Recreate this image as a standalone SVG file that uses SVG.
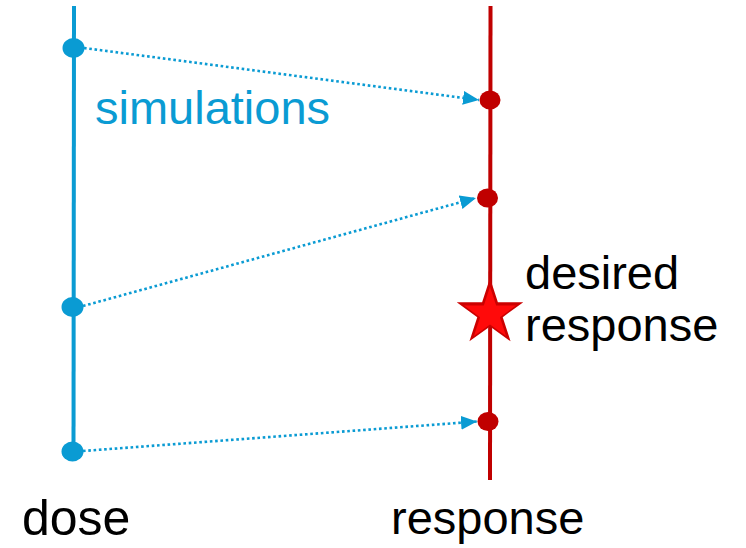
<svg xmlns="http://www.w3.org/2000/svg" xmlns:xlink="http://www.w3.org/1999/xlink" width="746" height="548" viewBox="0 0 746 548">
<style>
.blue{stroke:#0a9bd3;stroke-width:4;fill:none}
.red{stroke:#c00000;stroke-width:4;fill:none}
.bdot{fill:#0a9bd3}
.rdot{fill:#c00000}
.link{stroke:#0a9bd3;stroke-width:2.6;stroke-dasharray:2.6 2.7;fill:none}
text{font-family:"Liberation Sans",Arial,sans-serif;font-size:47px}
</style>
<defs>
<marker id="arr" markerUnits="userSpaceOnUse" markerWidth="18" markerHeight="16" refX="16" refY="7" orient="auto" viewBox="0 0 18 16">
<polygon points="0,0 16,7 0,14" fill="#0a9bd3"/>
</marker>
<path id="star" d="M0,-35 L7.88,-10.84 L33.29,-10.82 L12.74,4.14 L20.57,28.32 L0,13.4 L-20.57,28.32 L-12.74,4.14 L-33.29,-10.82 L-7.88,-10.84 Z"/>
</defs>
<g id="dose-axis">
<line class="blue" x1="74" y1="6" x2="73.5" y2="461"/>
<ellipse class="bdot" cx="73.5" cy="48" rx="11" ry="10"/>
<ellipse class="bdot" cx="72.5" cy="307" rx="11" ry="10"/>
<ellipse class="bdot" cx="72.5" cy="451.5" rx="11" ry="10"/>
<text x="22" y="535" style="font-size:50px">dose</text>
</g>
<g id="response-axis">
<line class="red" x1="490.5" y1="6" x2="490" y2="480"/>
<ellipse class="rdot" cx="490" cy="100" rx="10.5" ry="9.5"/>
<ellipse class="rdot" cx="487.5" cy="198" rx="10.5" ry="9.5"/>
<ellipse class="rdot" cx="488" cy="421.5" rx="10.5" ry="9.5"/>
<text x="391" y="534">response</text>
</g>
<g id="desired-response">
<use xlink:href="#star" transform="translate(490 313)" fill="#cc0000"/>
<use xlink:href="#star" transform="translate(490 314) scale(0.78)" fill="#ff0a0a"/>
<text x="525" y="289">desired</text>
<text x="525" y="341">response</text>
</g>
<g id="simulations-label">
<text x="95" y="124" fill="#0a9bd3">simulations</text>
</g>
<g id="connectors">
<line class="link" x1="84" y1="48" x2="479" y2="100" marker-end="url(#arr)"/>
<line class="link" x1="83" y1="306" x2="476" y2="198" marker-end="url(#arr)"/>
<line class="link" x1="83" y1="451" x2="477" y2="421.5" marker-end="url(#arr)"/>
</g>
</svg>
